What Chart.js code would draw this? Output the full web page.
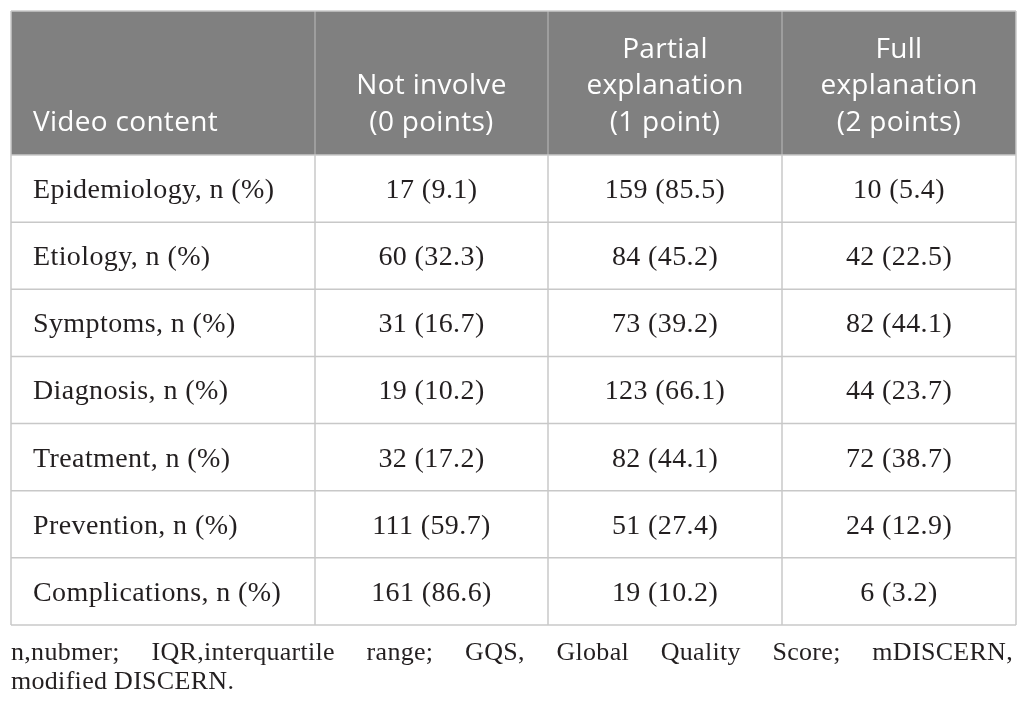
<!DOCTYPE html>
<html>
<head>
<meta charset="utf-8">
<script src="https://cdn.jsdelivr.net/npm/chart.js@4.4.1/dist/chart.umd.min.js"></script>
<style>
  html, body { margin: 0; padding: 0; background: #ffffff; }
  #wrap { width: 1026px; height: 707px; }
</style>
</head>
<body>
<div id="wrap"><canvas id="tableChart" width="1026" height="707"></canvas></div>
<script>
// Table content
const headerLabels = [
    ['Video content'],
    ['Not involve', '(0 points)'],
    ['Partial', 'explanation', '(1 point)'],
    ['Full', 'explanation', '(2 points)']
];
const rowLabels = [
    'Epidemiology, n (%)',
    'Etiology, n (%)',
    'Symptoms, n (%)',
    'Diagnosis, n (%)',
    'Treatment, n (%)',
    'Prevention, n (%)',
    'Complications, n (%)'
];
const notInvolveN   = [17, 60, 31, 19, 32, 111, 161];
const notInvolvePct = [9.1, 32.3, 16.7, 10.2, 17.2, 59.7, 86.6];
const partialN      = [159, 84, 73, 123, 82, 51, 19];
const partialPct    = [85.5, 45.2, 39.2, 66.1, 44.1, 27.4, 10.2];
const fullN         = [10, 42, 82, 44, 72, 24, 6];
const fullPct       = [5.4, 22.5, 44.1, 23.7, 38.7, 12.9, 3.2];
const footnoteLines = [
    'n,nubmer; IQR,interquartile range; GQS, Global Quality Score; mDISCERN,',
    'modified DISCERN.'
];

// Layout (scale units)
const colWidths = [304, 233, 234, 234];
const headerHeight = 144;
const rowHeight = 67.14;

const colEdges = [0];
colWidths.forEach(w => colEdges.push(colEdges[colEdges.length - 1] + w));
const totalWidth = colEdges[colEdges.length - 1];
const totalHeight = headerHeight + rowLabels.length * rowHeight;

function cellText(n, pct) {
    return n + ' (' + pct.toFixed(1) + ')';
}

const tablePlugin = {
    id: 'tableCells',
    beforeDatasetsDraw(chart) {
        const ctx = chart.ctx;
        const xs = v => chart.scales.x.getPixelForValue(v);
        const ys = v => chart.scales.y.getPixelForValue(v);
        const left = xs(0), right = xs(totalWidth);
        const top = ys(0), headBottom = ys(headerHeight), bottom = ys(totalHeight);

        ctx.save();
        // header background
        ctx.fillStyle = '#808080';
        ctx.fillRect(left, top, right - left, headBottom - top);

        // column dividers
        ctx.lineWidth = 1.5;
        colEdges.forEach((e, i) => {
            const x = xs(e);
            ctx.strokeStyle = (i === 0 || i === colEdges.length - 1) ? '#c8c8c8' : '#a9a9a9';
            ctx.beginPath();
            ctx.moveTo(x, top);
            ctx.lineTo(x, headBottom);
            ctx.stroke();
            ctx.strokeStyle = '#c8c8c8';
            ctx.beginPath();
            ctx.moveTo(x, headBottom);
            ctx.lineTo(x, bottom);
            ctx.stroke();
        });

        // row lines
        ctx.strokeStyle = '#c8c8c8';
        const rowEdges = [0];
        for (let i = 0; i <= rowLabels.length; i++) rowEdges.push(headerHeight + i * rowHeight);
        rowEdges.forEach(e => {
            const y = ys(e);
            ctx.beginPath();
            ctx.moveTo(left, y);
            ctx.lineTo(right, y);
            ctx.stroke();
        });

        // header text
        ctx.fillStyle = '#ffffff';
        ctx.font = '28px "Open Sans", sans-serif';
        ctx.letterSpacing = '0.3px';
        ctx.textBaseline = 'alphabetic';
        headerLabels.forEach((lines, c) => {
            const n = lines.length;
            lines.forEach((t, k) => {
                const y = headBottom - 24 - (n - 1 - k) * 36.7;
                if (c === 0) {
                    ctx.textAlign = 'left';
                    ctx.fillText(t, xs(colEdges[0]) + 22, y);
                } else {
                    ctx.textAlign = 'center';
                    ctx.fillText(t, (xs(colEdges[c]) + xs(colEdges[c + 1])) / 2, y);
                }
            });
        });

        // body text
        ctx.fillStyle = '#231f20';
        ctx.font = '28px "Liberation Serif", serif';
        ctx.letterSpacing = '0.4px';
        const cols = [
            rowLabels,
            notInvolveN.map((v, i) => cellText(v, notInvolvePct[i])),
            partialN.map((v, i) => cellText(v, partialPct[i])),
            fullN.map((v, i) => cellText(v, fullPct[i]))
        ];
        cols.forEach((vals, c) => {
            vals.forEach((t, r) => {
                const y = ys(headerHeight + r * rowHeight) + 43;
                if (c === 0) {
                    ctx.textAlign = 'left';
                    ctx.fillText(t, xs(colEdges[0]) + 22, y);
                } else {
                    ctx.textAlign = 'center';
                    ctx.fillText(t, (xs(colEdges[c]) + xs(colEdges[c + 1])) / 2, y);
                }
            });
        });

        // footnote, first line justified
        ctx.font = '26px "Liberation Serif", serif';
        ctx.letterSpacing = '0.3px';
        ctx.textAlign = 'left';
        footnoteLines.forEach((line, k) => {
            const y = bottom + 35 + k * 29;
            if (k < footnoteLines.length - 1) {
                const words = line.split(' ');
                const wordsWidth = words.reduce((s, w) => s + ctx.measureText(w).width, 0);
                const gap = (right - 3 - left - wordsWidth) / (words.length - 1);
                let x = left;
                words.forEach(w => {
                    ctx.fillText(w, x, y);
                    x += ctx.measureText(w).width + gap;
                });
            } else {
                ctx.fillText(line, left, y);
            }
        });
        ctx.restore();
    }
};

new Chart(document.getElementById('tableChart'), {
    type: 'scatter',
    data: { datasets: [] },
    options: {
        responsive: false,
        animation: false,
        devicePixelRatio: 1,
        layout: { padding: { left: 11, top: 11, right: 10, bottom: 82 } },
        plugins: {
            legend: { display: false },
            tooltip: { enabled: false }
        },
        scales: {
            x: { type: 'linear', display: false, min: 0, max: totalWidth },
            y: { type: 'linear', display: false, min: 0, max: totalHeight, reverse: true }
        }
    },
    plugins: [tablePlugin]
});
</script>
</body>
</html>
